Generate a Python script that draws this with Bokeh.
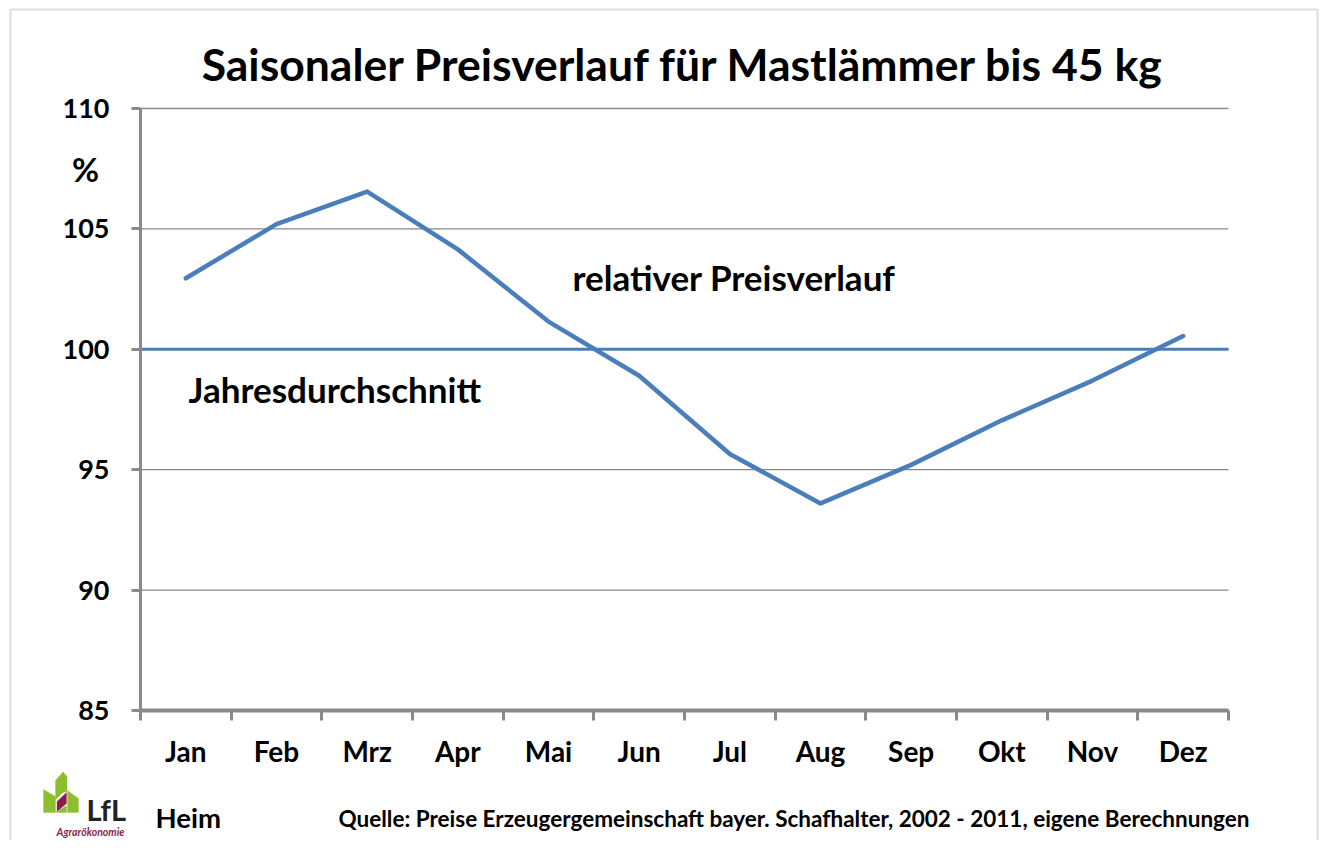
from bokeh.plotting import figure
from bokeh.models import (Range1d, FixedTicker, Label, PolyAnnotation, LinearAxis)
from bokeh.embed import file_html
from bokeh.resources import INLINE

# ---- data ----
months = ["Jan", "Feb", "Mrz", "Apr", "Mai", "Jun", "Jul", "Aug", "Sep", "Okt", "Nov", "Dez"]
relative_price = [102.95, 105.2, 106.55, 104.15, 101.15, 98.9, 95.65, 93.6, 95.2, 97.05, 98.7, 100.55]
annual_average = 100
y_ticks = [85, 90, 95, 100, 105, 110]
y_min, y_max = 85, 110

title_text = "Saisonaler Preisverlauf für Mastlämmer bis 45 kg"
series_label = "relativer Preisverlauf"
avg_label = "Jahresdurchschnitt"
unit_label = "%"
author = "Heim"
source = "Quelle: Preise Erzeugergemeinschaft bayer. Schafhalter, 2002 - 2011, eigene Berechnungen"

# ---- layout (pixels on the canvas) ----
W, H = 1319, 840
PX0, PX1 = 140, 1228   # plot area left / right
PY0, PY1 = 108, 710    # plot area top / bottom
n = len(months)
sx = (PX1 - PX0) / n
sy = (PY1 - PY0) / (y_max - y_min)
FONT = "Lato"
GRAY = "#898989"
BLUE = "#4A7EBB"

def dx(px):
    return (px - PX0) / sx

def dy(py):
    return y_max - (py - PY0) / sy

p = figure(width=W, height=H, output_backend="svg", toolbar_location=None,
           x_range=Range1d(dx(0), dx(W)), y_range=Range1d(dy(H), dy(0)),
           x_axis_type=None, y_axis_type=None,
           min_border=0, min_border_left=0, min_border_right=0,
           min_border_top=0, min_border_bottom=0,
           background_fill_color="white", border_fill_color="white")
p.outline_line_color = None
p.grid.visible = False

# horizontal grid lines at the y ticks
p.segment(x0=0, x1=n, y0=y_ticks, y1=y_ticks, line_color=GRAY, line_width=1.3)

# x axis: boundary tick marks (minor), month labels at centres (major)
centers = [i + 0.5 for i in range(n)]
bounds = list(range(n + 1))
xa = LinearAxis(fixed_location=y_min, bounds=(0, n),
                ticker=FixedTicker(ticks=centers, minor_ticks=bounds))
xa.major_label_overrides = {c: m for c, m in zip(centers, months)}
xa.axis_line_color = GRAY
xa.axis_line_width = 4
xa.major_tick_out = 0
xa.major_tick_in = 0
xa.minor_tick_out = 10
xa.minor_tick_in = 0
xa.minor_tick_line_color = GRAY
xa.minor_tick_line_width = 3
xa.major_label_text_font = FONT
xa.major_label_text_font_style = "bold"
xa.major_label_text_font_size = "28px"
xa.major_label_text_color = "black"
xa.major_label_standoff = 13
p.add_layout(xa, "below")

ya = LinearAxis(fixed_location=0, bounds=(y_min, y_max),
                ticker=FixedTicker(ticks=y_ticks, minor_ticks=[]))
ya.axis_line_color = GRAY
ya.axis_line_width = 3
ya.major_tick_out = 9
ya.major_tick_in = 0
ya.major_tick_line_color = GRAY
ya.major_tick_line_width = 3
ya.major_label_text_font = FONT
ya.major_label_text_font_style = "bold"
ya.major_label_text_font_size = "27px"
ya.major_label_text_color = "black"
ya.major_label_standoff = 22
p.add_layout(ya, "left")

# annual average line
p.line([0, n], [annual_average, annual_average], line_color=BLUE, line_width=3)

# seasonal curve
p.line(centers, relative_price, line_color=BLUE, line_width=4.5, line_join="round", line_cap="round")

def lab(text, px, py, size, align="left", color="black", style="bold"):
    p.add_layout(Label(x=dx(px), y=dy(py), text=text, text_font=FONT, text_font_style=style,
                       text_font_size=size, text_align=align, text_baseline="middle",
                       text_color=color))

lab(title_text, 683, 63, "44.5px", align="center")
lab(unit_label, 85, 168, "33px", align="center")
lab(series_label, 572, 276, "35px")
lab(avg_label, 188, 388, "35px")
lab(author, 155, 817, "27.5px")
lab(source, 338, 818, "22.5px")

# outer chart border
fx = [dx(10), dx(1317), dx(1317), dx(10)]
fy = [dy(2000), dy(2000), dy(9), dy(9)]
p.add_layout(PolyAnnotation(xs=fx, ys=fy, fill_alpha=0, line_color="#8c8c8c", line_width=2))

# LfL logo
green = "#8DBE2C"
maroon = "#8A1E48"
shapes = [
    ([43, 55, 55, 43], [789, 796, 812, 812], green),
    ([55, 62.5, 62.5, 55], [780, 771.5, 792, 799], green),
    ([62.5, 66.5, 66.5, 62.5], [771.5, 776, 791, 792], green),
    ([56.5, 66, 66, 56.5], [801, 792, 803, 811], maroon),
    ([55, 66, 66, 55], [812, 805, 812, 812], green),
    ([67, 78, 78, 67], [790, 798, 812, 812], green),
]
for xs, ys, c in shapes:
    p.add_layout(PolyAnnotation(xs=[dx(v) for v in xs], ys=[dy(v) for v in ys],
                                fill_color=c, fill_alpha=1, line_color=c, line_width=1))
lab("LfL", 86, 809, "29px", color="#222222")
lab("Agrarökonomie", 56, 831, "10.5px", color=maroon, style="bold italic")

open("out.html", "w").write(file_html(p, INLINE))
